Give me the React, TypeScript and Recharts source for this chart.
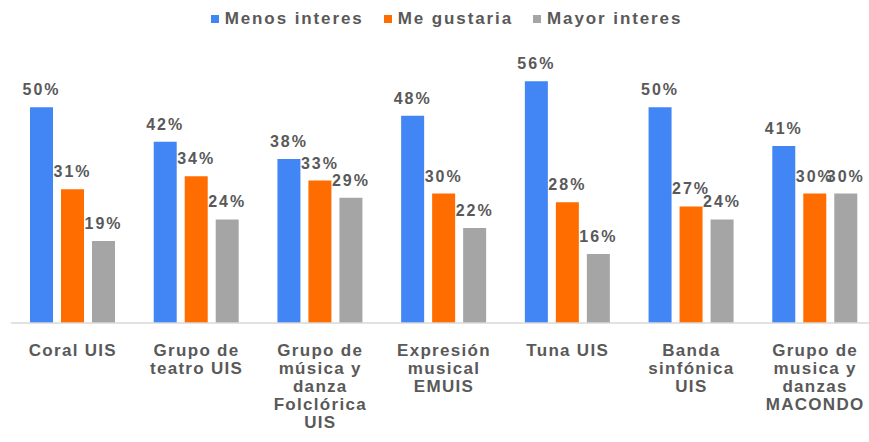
import { BarChart, Bar, XAxis, YAxis, LabelList } from "recharts";

const CATEGORIAS = [
  "Coral UIS",
  "Grupo de\nteatro UIS",
  "Grupo de\nmúsica y\ndanza\nFolclórica\nUIS",
  "Expresión\nmusical\nEMUIS",
  "Tuna UIS",
  "Banda\nsinfónica\nUIS",
  "Grupo de\nmusica y\ndanzas\nMACONDO",
];
const MENOS_INTERES = [50, 42, 38, 48, 56, 50, 41];
const ME_GUSTARIA = [31, 34, 33, 30, 28, 27, 30];
const MAYOR_INTERES = [19, 24, 29, 22, 16, 24, 30];

const SERIES = [
  { key: "menos", name: "Menos interes", color: "#4285f4" },
  { key: "gusta", name: "Me gustaria", color: "#ff6d01" },
  { key: "mayor", name: "Mayor interes", color: "#a5a5a5" },
];

const data = CATEGORIAS.map((c, i) => ({
  cat: c,
  menos: MENOS_INTERES[i],
  gusta: ME_GUSTARIA[i],
  mayor: MAYOR_INTERES[i],
}));

const FONT = "'Liberation Sans', Arial, sans-serif";
const TXT = "#595959";

function CatTick({ x, y, payload }: any) {
  const lines = String(payload.value).split("\n");
  return (
    <text x={x} y={y} textAnchor="middle" fill={TXT} fontFamily={FONT} fontWeight={700} fontSize={17} letterSpacing={1.3}>
      {lines.map((l, i) => (
        <tspan key={i} x={x} dy={i === 0 ? 25 : 18}>{l}</tspan>
      ))}
    </text>
  );
}

export default function App() {
  return (
    <div style={{ position: "absolute", left: 0, top: 0, width: 869, height: 442, overflow: "hidden", background: "#fff" }}>
      {/* leyenda */}
      <div style={{ position: "absolute", top: 9, left: 0, width: 869, display: "flex", justifyContent: "center", gap: 20, paddingLeft: 24, boxSizing: "border-box", fontFamily: FONT, fontWeight: 700, fontSize: 17, color: TXT, letterSpacing: 1.9 }}>
        {SERIES.map(s => (
          <div key={s.key} style={{ display: "flex", alignItems: "center", gap: 6 }}>
            <span style={{ width: 8, height: 8, background: s.color, display: "inline-block" }} />
            <span>{s.name}</span>
          </div>
        ))}
      </div>
      <BarChart width={880} height={442} data={data} margin={{ top: 64, right: 3, bottom: 9, left: 11 }} barSize={23} barGap={8}>
        <XAxis dataKey="cat" interval={0} tick={<CatTick />} tickLine={false} axisLine={{ stroke: "#d9d9d9", strokeWidth: 1.5 }} height={110} />
        <YAxis hide domain={[0, 60]} />
        {SERIES.map(s => (
          <Bar key={s.key} dataKey={s.key} name={s.name} fill={s.color} isAnimationActive={false}>
            <LabelList dataKey={s.key} position="top" offset={12} formatter={(v: any) => `${v}%`}
              style={{ fill: TXT, fontFamily: FONT, fontWeight: 700, fontSize: 16, letterSpacing: 2 }} />
          </Bar>
        ))}
      </BarChart>
    </div>
  );
}
